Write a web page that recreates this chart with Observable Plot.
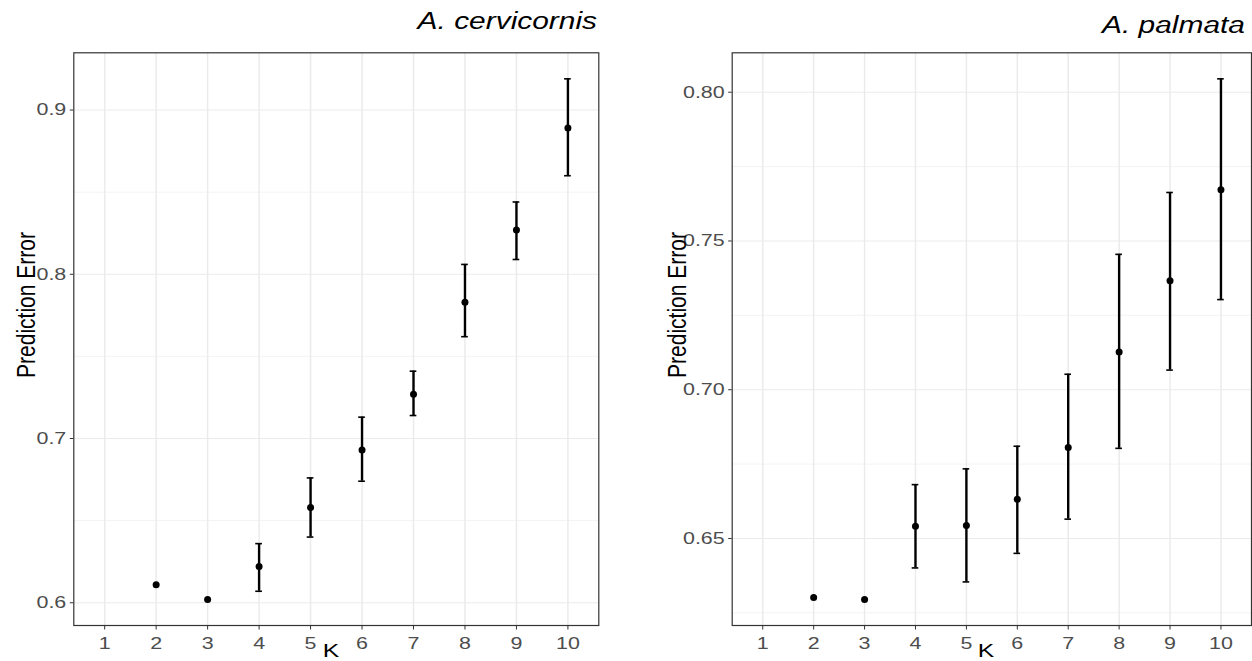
<!DOCTYPE html>
<html>
<head>
<meta charset="utf-8">
<script src="https://cdn.jsdelivr.net/npm/d3@7"></script>
<script src="https://cdn.jsdelivr.net/npm/@observablehq/plot@0.6"></script>
<style>
html, body { margin: 0; padding: 0; background: #fff; }
#root { position: relative; width: 1252px; height: 661px; overflow: hidden; background: #fff;
  font-family: "Liberation Sans", Arial, Helvetica, sans-serif; }
.panel { position: absolute; top: 0; width: 626px; height: 661px; }
.title { position: absolute; font-style: italic; font-size: 23px; line-height: 1; color: #000;
  white-space: nowrap; transform-origin: right center; transform: scaleX(1.3); }
.anchor { position: absolute; width: 0; height: 0; overflow: visible; }
.anchor span { position: absolute; left: 0; top: 0; white-space: nowrap; line-height: 1;
  font-size: 21px; color: #000; }
</style>
</head>
<body>
<div id="root"></div>
<script>
// ---- data ----
const kTicks = [1, 2, 3, 4, 5, 6, 7, 8, 9, 10];
const kValues = [2, 3, 4, 5, 6, 7, 8, 9, 10];

const cervMean = [0.611, 0.602, 0.622, 0.658, 0.693, 0.727, 0.783, 0.827, 0.889];
const cervLow  = [null, null, 0.607, 0.640, 0.674, 0.714, 0.762, 0.809, 0.860];
const cervHigh = [null, null, 0.636, 0.676, 0.713, 0.741, 0.806, 0.844, 0.919];

const palmMean = [0.6302, 0.6295, 0.6541, 0.6544, 0.6632, 0.6806, 0.7127, 0.7366, 0.7672];
const palmLow  = [null, null, 0.6401, 0.6354, 0.6450, 0.6565, 0.6803, 0.7066, 0.7303];
const palmHigh = [null, null, 0.6681, 0.6734, 0.6810, 0.7052, 0.7455, 0.7663, 0.8045];

const cervYTicks = [0.6, 0.7, 0.8, 0.9];
const cervYMinor = [0.65, 0.75, 0.85];
const palmYTicks = [0.65, 0.70, 0.75, 0.80];
const palmYMinor = [0.625, 0.675, 0.725, 0.775];

const titles = ["A. cervicornis", "A. palmata"];
const xLabel = "K";
const yLabel = "Prediction Error";

// ---- build ----
const STRETCH = 1.3;
const FONT = '"Liberation Sans", Arial, Helvetica, sans-serif';

function rows(mean, lo, hi) {
  return kValues.map((k, i) => ({k, mean: mean[i], lo: lo[i], hi: hi[i]}));
}

function panel({data, yTicks, yMinor, fmt, mL, mR}) {
  const vals = data.flatMap(d => [d.mean, d.lo, d.hi]).filter(v => v != null);
  const [lo, hi] = d3.extent(vals);
  const pad = (hi - lo) * 0.05;
  const bars = data.filter(d => d.lo != null);
  const capHalf = 0.065;
  return Plot.plot({
    width: 626, height: 661,
    marginLeft: mL, marginRight: mR, marginTop: 52.3, marginBottom: 36,
    x: {domain: [0.4, 10.6], label: null},
    y: {domain: [lo - pad, hi + pad], label: null},
    style: {fontFamily: FONT, fontSize: "16.5px", background: "transparent", overflow: "visible"},
    marks: [
      Plot.gridY(yMinor, {stroke: "#ebebeb", strokeOpacity: 1, strokeWidth: 0.6}),
      Plot.gridY(yTicks, {stroke: "#ebebeb", strokeOpacity: 1, strokeWidth: 1.1}),
      Plot.gridX(kTicks, {stroke: "#ebebeb", strokeOpacity: 1, strokeWidth: 1.5}),
      Plot.ruleX(bars, {x: "k", y1: "lo", y2: "hi", stroke: "#000", strokeWidth: 2.4}),
      Plot.ruleY(bars, {y: "hi", x1: d => d.k - capHalf, x2: d => d.k + capHalf, stroke: "#000", strokeWidth: 1.6}),
      Plot.ruleY(bars, {y: "lo", x1: d => d.k - capHalf, x2: d => d.k + capHalf, stroke: "#000", strokeWidth: 1.6}),
      Plot.dot(data, {x: "k", y: "mean", r: 3.5, fill: "#000"}),
      Plot.frame({stroke: "#333", strokeWidth: 1.2}),
      Plot.axisX(kTicks, {tickSize: 4.5, tickPadding: 7, stroke: "#333", fill: "#4d4d4d", label: null, tickFormat: d => String(d)}),
      Plot.axisY(yTicks, {tickSize: 3.5, tickPadding: 4, stroke: "#333", fill: "#4d4d4d", label: null, tickFormat: fmt})
    ]
  });
}

function stretchText(svg) {
  svg.querySelectorAll("text").forEach(t => {
    const x = +t.getAttribute("x") || 0;
    const tr = t.getAttribute("transform") || "";
    t.setAttribute("transform", `${tr} translate(${x},0) scale(${STRETCH},1) translate(${-x},0)`);
  });
}

const root = document.getElementById("root");

const specs = [
  {left: 0, data: rows(cervMean, cervLow, cervHigh), yTicks: cervYTicks, yMinor: cervYMinor,
   fmt: d3.format(".1f"), mL: 73.3, mR: 27.7,
   titleRight: 596.7, titleTop: 9.5, yLabX: 26, xLabX: 331},
  {left: 626, data: rows(palmMean, palmLow, palmHigh), yTicks: palmYTicks, yMinor: palmYMinor,
   fmt: d3.format(".2f"), mL: 105.7, mR: 1,
   titleRight: 1245, titleTop: 14, yLabX: 677, xLabX: 986}
];

specs.forEach((s, i) => {
  const div = document.createElement("div");
  div.className = "panel";
  div.style.left = s.left + "px";
  root.appendChild(div);
  const svg = panel(s);
  div.appendChild(svg);
  stretchText(svg);

  const t = document.createElement("div");
  t.className = "title";
  t.textContent = titles[i];
  t.style.right = (1252 - s.titleRight) + "px";
  t.style.top = s.titleTop + "px";
  root.appendChild(t);

  const ya = document.createElement("div");
  ya.className = "anchor";
  ya.style.left = s.yLabX + "px";
  ya.style.top = "305px";
  const ys = document.createElement("span");
  ys.textContent = yLabel;
  ys.style.transform = `translate(-50%,-50%) rotate(-90deg) scaleY(1.2)`;
  ya.appendChild(ys);
  root.appendChild(ya);

  const xa = document.createElement("div");
  xa.className = "anchor";
  xa.style.left = s.xLabX + "px";
  xa.style.top = "650px";
  const xs = document.createElement("span");
  xs.textContent = xLabel;
  xs.style.fontSize = "19px";
  xs.style.transform = `translate(-50%,-50%) scaleX(1.3)`;
  xa.appendChild(xs);
  root.appendChild(xa);
});
</script>
</body>
</html>
